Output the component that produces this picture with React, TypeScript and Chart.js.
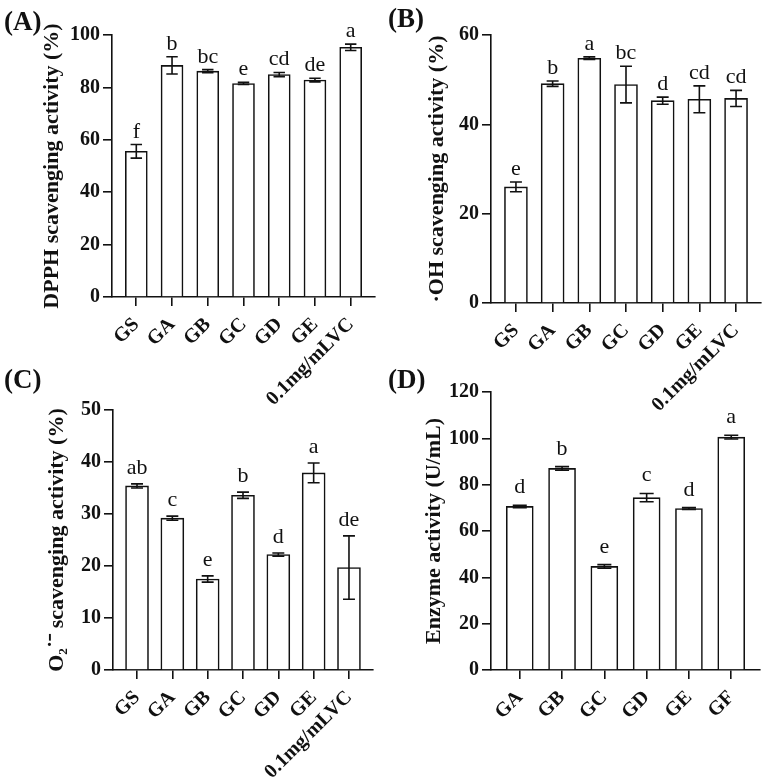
import { useEffect, useRef } from "react";
import { Chart, registerables } from "chart.js";

Chart.register(...registerables);

const FONT = "'Liberation Serif', 'Times New Roman', serif";

// Painel A - DPPH
const dpphGroups = ["GS", "GA", "GB", "GC", "GD", "GE", "0.1mg/mLVC"];
const dpphMeans = [55.6, 88.4, 86.2, 81.5, 84.9, 82.8, 95.3];
const dpphErrors = [2.6, 3.3, 0.6, 0.4, 0.8, 0.7, 1.2];
const dpphLetters = ["f", "b", "bc", "e", "cd", "de", "a"];

// Painel B - OH
const ohGroups = ["GS", "GA", "GB", "GC", "GD", "GE", "0.1mg/mLVC"];
const ohMeans = [26.0, 49.1, 54.8, 48.9, 45.3, 45.6, 45.8];
const ohErrors = [1.1, 0.6, 0.3, 4.1, 0.8, 3.0, 1.8];
const ohLetters = ["e", "b", "a", "bc", "d", "cd", "cd"];

// Painel C - O2
const o2Groups = ["GS", "GA", "GB", "GC", "GD", "GE", "0.1mg/mLVC"];
const o2Means = [35.4, 29.2, 17.5, 33.6, 22.2, 37.9, 19.7];
const o2Errors = [0.4, 0.4, 0.6, 0.6, 0.3, 1.9, 6.1];
const o2Letters = ["ab", "c", "e", "b", "d", "a", "de"];

// Painel D - atividade enzimática
const enzGroups = ["GA", "GB", "GC", "GD", "GE", "GF"];
const enzMeans = [70.6, 87.0, 44.7, 74.4, 69.7, 100.5];
const enzErrors = [0.5, 0.8, 0.8, 1.8, 0.4, 0.8];
const enzLetters = ["d", "b", "e", "c", "d", "a"];

interface PanelProps {
  tag: string;
  groups: string[];
  means: number[];
  errors: number[];
  letters: string[];
  yTitle: string;
  yMax: number;
  yStep: number;
  box: { left: number; top: number; width: number; height: number };
  area: { left: number; right: number; top: number; bottom: number };
  barWidth: number;
  letterGap: number;
  titleCenter: number;
  tagY: number;
}

// desenha barras de erro, letras de significância e o rótulo do painel
const extrasPlugin = {
  id: "extras",
  afterDraw(chart: any, _args: any, opts: any) {
    const { ctx } = chart;
    const x = chart.scales.x;
    const y = chart.scales.y;
    ctx.save();
    ctx.strokeStyle = "#111";
    ctx.lineWidth = 1.6;
    ctx.fillStyle = "#111";
    ctx.textAlign = "center";
    ctx.textBaseline = "alphabetic";
    ctx.font = `22px ${FONT}`;
    opts.means.forEach((m: number, i: number) => {
      const e = opts.errors[i];
      const px = x.getPixelForValue(i);
      const top = y.getPixelForValue(m + e);
      const bot = y.getPixelForValue(m - e);
      const cap = opts.barWidth * 0.26;
      ctx.beginPath();
      ctx.moveTo(px, top);
      ctx.lineTo(px, bot);
      ctx.moveTo(px - cap, top);
      ctx.lineTo(px + cap, top);
      ctx.moveTo(px - cap, bot);
      ctx.lineTo(px + cap, bot);
      ctx.stroke();
      ctx.fillText(opts.letters[i], px, top - opts.letterGap);
    });
    ctx.textAlign = "left";
    ctx.textBaseline = "middle";
    ctx.font = `bold 27px ${FONT}`;
    ctx.fillText(opts.tag, 4, opts.tagY);
    ctx.restore();
  },
};

function BarPanel(p: PanelProps) {
  const canvasRef = useRef<HTMLCanvasElement>(null);
  const chartRef = useRef<Chart | null>(null);

  useEffect(() => {
    const canvas = canvasRef.current;
    if (!canvas) return;
    if (chartRef.current) chartRef.current.destroy();

    const n = p.groups.length;
    const tickFont = { family: FONT, size: 20, weight: "bold" as const };

    chartRef.current = new Chart(canvas, {
      type: "bar",
      data: {
        datasets: [
          {
            data: p.means.map((v, i) => ({ x: i, y: v })),
            backgroundColor: "#ffffff",
            borderColor: "#111",
            borderWidth: 1.6,
            barThickness: p.barWidth,
          },
        ],
      },
      options: {
        responsive: false,
        animation: false,
        layout: {
          padding: {
            left: 0,
            top: p.area.top,
            right: p.box.width - p.area.right,
            bottom: 0,
          },
        },
        plugins: {
          legend: { display: false },
          tooltip: { enabled: false },
          extras: {
            means: p.means,
            errors: p.errors,
            letters: p.letters,
            barWidth: p.barWidth,
            letterGap: p.letterGap,
            tag: p.tag,
            tagY: p.tagY,
          },
        } as any,
        scales: {
          x: {
            type: "linear",
            min: -0.68,
            max: n - 1 + 0.68,
            offset: false,
            afterBuildTicks: (scale: any) => {
              scale.ticks = p.groups.map((_, i) => ({ value: i }));
            },
            afterFit: (scale: any) => {
              scale.height = p.box.height - p.area.bottom;
            },
            ticks: {
              autoSkip: false,
              minRotation: 45,
              maxRotation: 45,
              padding: 7,
              color: "#111",
              font: tickFont,
              callback: (v: any) => p.groups[v as number] ?? "",
            },
            grid: {
              offset: false,
              drawOnChartArea: false,
              tickLength: 9,
              color: "#111",
              lineWidth: 1.6,
            },
            border: { color: "#111", width: 1.6 },
          },
          y: {
            min: 0,
            max: p.yMax,
            afterFit: (scale: any) => {
              scale.width = p.area.left;
            },
            ticks: {
              stepSize: p.yStep,
              padding: 3,
              color: "#111",
              font: tickFont,
            },
            grid: {
              drawOnChartArea: false,
              tickLength: 9,
              color: "#111",
              lineWidth: 1.6,
            },
            border: { color: "#111", width: 1.6 },
            title: {
              display: true,
              text: p.yTitle,
              color: "#111",
              font: { family: FONT, size: 22, weight: "bold" },
              padding: { top: p.titleCenter - 13.2, bottom: 0 },
            },
          },
        },
      },
      plugins: [extrasPlugin],
    } as any);

    return () => {
      if (chartRef.current) {
        chartRef.current.destroy();
        chartRef.current = null;
      }
    };
  }, []);

  return (
    <canvas
      ref={canvasRef}
      width={p.box.width}
      height={p.box.height}
      style={{
        position: "absolute",
        left: p.box.left,
        top: p.box.top,
        width: p.box.width,
        height: p.box.height,
      }}
    />
  );
}

export default function App() {
  return (
    <div
      style={{
        position: "absolute",
        left: 0,
        top: 0,
        width: 767,
        height: 783,
        background: "#fff",
        overflow: "hidden",
      }}
    >
      <BarPanel
        tag="(A)"
        groups={dpphGroups}
        means={dpphMeans}
        errors={dpphErrors}
        letters={dpphLetters}
        yTitle="DPPH scavenging activity (%)"
        yMax={100}
        yStep={20}
        box={{ left: 0, top: 0, width: 384, height: 430 }}
        area={{ left: 112, right: 375, top: 35, bottom: 297 }}
        barWidth={22}
        letterGap={7}
        titleCenter={52}
        tagY={23}
      />
      <BarPanel
        tag="(B)"
        groups={ohGroups}
        means={ohMeans}
        errors={ohErrors}
        letters={ohLetters}
        yTitle="·OH scavenging activity (%)"
        yMax={60}
        yStep={20}
        box={{ left: 384, top: 0, width: 383, height: 430 }}
        area={{ left: 107, right: 377, top: 35, bottom: 303 }}
        barWidth={23}
        letterGap={7}
        titleCenter={53}
        tagY={20}
      />
      <BarPanel
        tag="(C)"
        groups={o2Groups}
        means={o2Means}
        errors={o2Errors}
        letters={o2Letters}
        yTitle="O₂˙⁻ scavenging activity (%)"
        yMax={50}
        yStep={10}
        box={{ left: 0, top: 360, width: 384, height: 423 }}
        area={{ left: 113, right: 373, top: 50, bottom: 310 }}
        barWidth={23}
        letterGap={10}
        titleCenter={57}
        tagY={21}
      />
      <BarPanel
        tag="(D)"
        groups={enzGroups}
        means={enzMeans}
        errors={enzErrors}
        letters={enzLetters}
        yTitle="Enzyme activity (U/mL)"
        yMax={120}
        yStep={20}
        box={{ left: 384, top: 360, width: 383, height: 423 }}
        area={{ left: 107, right: 376, top: 32, bottom: 310 }}
        barWidth={27}
        letterGap={12}
        titleCenter={50}
        tagY={21}
      />
    </div>
  );
}
